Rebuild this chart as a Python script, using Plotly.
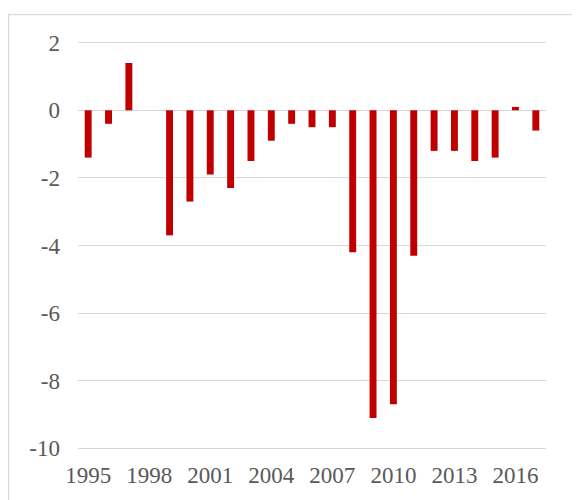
import plotly.graph_objects as go

years = [str(y) for y in range(1995, 2018)]
values = [-1.4, -0.4, 1.4, 0.0, -3.7, -2.7, -1.9, -2.3, -1.5, -0.9, -0.4, -0.5,
          -0.5, -4.2, -9.1, -8.7, -4.3, -1.2, -1.2, -1.5, -1.4, 0.1, -0.6]
tick_years = [str(y) for y in range(1995, 2018, 3)]
y_ticks = [2, 0, -2, -4, -6, -8, -10]

SERIF = '"Liberation Serif", "Times New Roman", Times, serif'
TICK_FONT = dict(family=SERIF, size=23, color='#595959')

fig = go.Figure(go.Bar(
    x=years, y=values,
    marker=dict(color='#c00000', line=dict(width=0)),
))

# page body adds an 8px offset, so the figure is drawn 8px smaller and margins shifted
fig.update_layout(
    width=572, height=492,
    margin=dict(l=70, r=34, t=33, b=50),
    paper_bgcolor='white', plot_bgcolor='white',
    font=dict(family=SERIF),
    bargap=0.66,
    showlegend=False,
    xaxis=dict(
        type='category',
        tickmode='array', tickvals=tick_years, ticktext=tick_years,
        showgrid=False, showline=False, ticks='',
        tickfont=TICK_FONT, ticklabelstandoff=9,
    ),
    yaxis=dict(
        range=[-10.05, 2.05],
        tickmode='array', tickvals=y_ticks, ticktext=[str(v) for v in y_ticks],
        showgrid=True, gridcolor='#d9d9d9', gridwidth=1.3,
        zeroline=True, zerolinecolor='#d9d9d9', zerolinewidth=1.3,
        showline=False, ticks='', ticklen=0,
        tickfont=TICK_FONT, ticklabelstandoff=17,
    ),
    shapes=[dict(
        type='rect', xref='paper', yref='paper',
        x0=-0.1485, x1=1.3, y0=-0.3, y1=1.0645,
        line=dict(color='#d9d9d9', width=1.3), layer='below',
    )],
)

fig.write_html("out.html")
